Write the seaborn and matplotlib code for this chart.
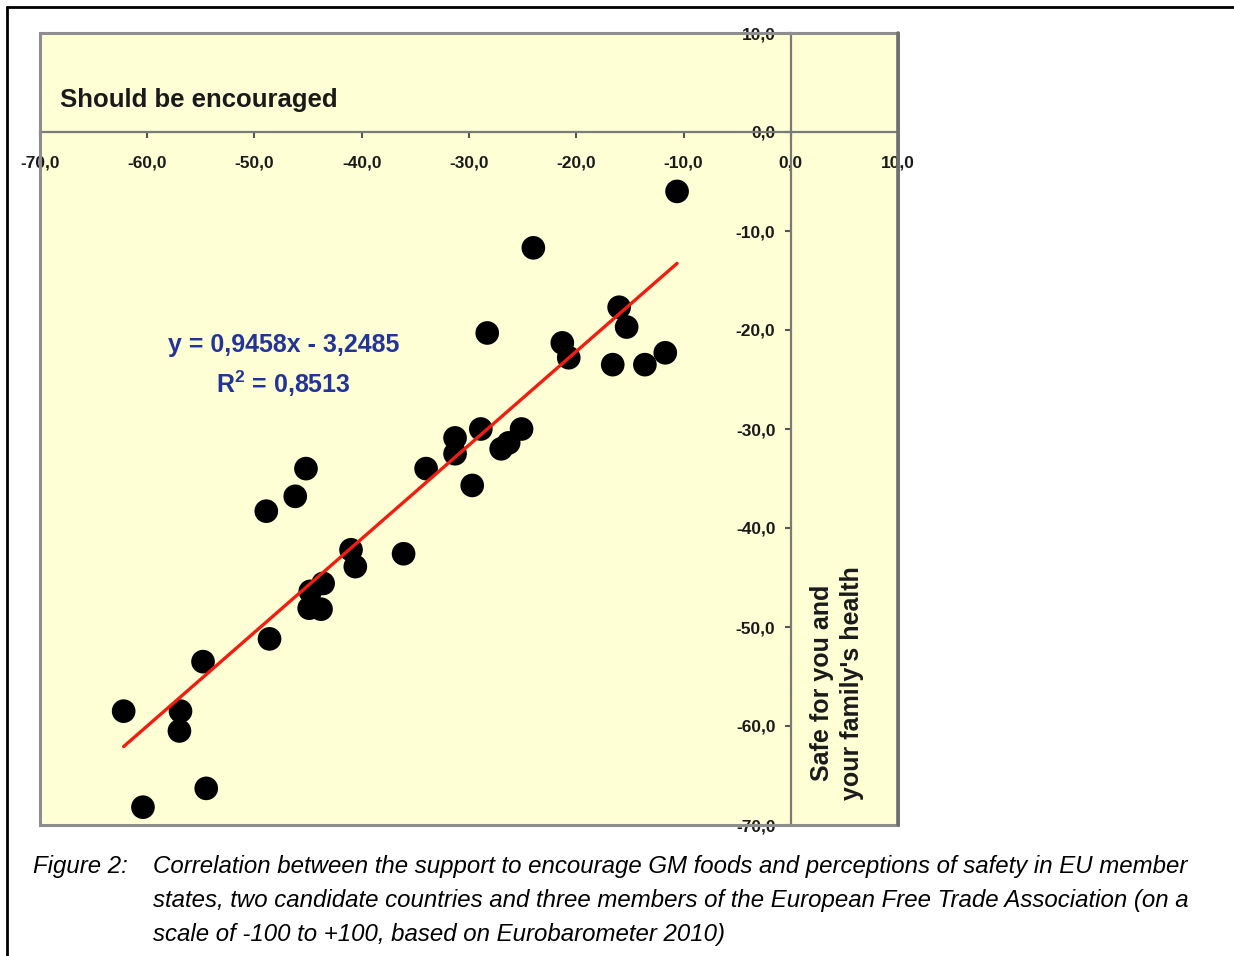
import matplotlib
matplotlib.use("Agg")
import matplotlib.pyplot as plt
from matplotlib.lines import Line2D
from matplotlib.patches import Rectangle
from matplotlib.ticker import FuncFormatter
import seaborn as sns
import pandas as pd
import numpy as np

# ---- data ----
support_encourage = [-10.6, -24.0, -16.0, -15.3, -28.3, -21.3, -20.7, -16.6, -13.6, -11.7,
                     -25.1, -28.9, -31.3, -31.3, -26.3, -27.0, -29.7, -34.0, -45.2, -46.2,
                     -48.9, -41.0, -36.1, -40.6, -43.6, -44.8, -44.9, -43.8, -48.6, -54.8,
                     -62.2, -56.9, -57.0, -54.5, -60.4]
safe_health = [-6.0, -11.7, -17.7, -19.7, -20.3, -21.3, -22.8, -23.5, -23.5, -22.3,
               -30.0, -30.0, -30.9, -32.5, -31.4, -32.0, -35.7, -34.0, -34.0, -36.8,
               -38.3, -42.2, -42.6, -43.9, -45.6, -46.4, -48.1, -48.2, -51.2, -53.5,
               -58.5, -58.5, -60.5, -66.3, -68.2]
slope = 0.9458
intercept = -3.2485
r_squared = 0.8513
tick_values = [-70, -60, -50, -40, -30, -20, -10, 0, 10]

df = pd.DataFrame({"x": support_encourage, "y": safe_health})

sns.set_theme(style="white")
plt.rcParams["font.family"] = ["Liberation Sans", "DejaVu Sans"]
plt.rcParams["mathtext.fontset"] = "custom"
plt.rcParams["mathtext.bf"] = "Liberation Sans:bold"
plt.rcParams["mathtext.rm"] = "Liberation Sans"

W, H = 1234, 956
fig = plt.figure(figsize=(W / 100, H / 100), dpi=100)
fig.patch.set_facecolor("white")

ax_l, ax_r, ax_t, ax_b = 40, 898, 33, 825
ax = fig.add_axes([ax_l / W, 1 - ax_b / H, (ax_r - ax_l) / W, (ax_b - ax_t) / H])
ax.set_facecolor("#FFFFD6")

sns.scatterplot(data=df, x="x", y="y", ax=ax, s=290, color="black",
                edgecolor="none", zorder=3, legend=False)

xs = np.array([min(support_encourage), max(support_encourage)])
sns.lineplot(x=xs, y=slope * xs + intercept, ax=ax, color="#F01E10",
             linewidth=2.4, zorder=4)

ax.set_xlim(-70, 10)
ax.set_ylim(-70, 10)

# axes crossing at zero
for side in ["left", "bottom"]:
    ax.spines[side].set_position(("data", 0))
    ax.spines[side].set_color("#7A7A7A")
    ax.spines[side].set_linewidth(1.6)
for side in ["top", "right"]:
    ax.spines[side].set_visible(False)

# outer plot frame
ax.add_patch(Rectangle((0, 0), 1, 1, transform=ax.transAxes, fill=False,
                       edgecolor="#8E8E8E", linewidth=2.2, zorder=5, clip_on=False))
ax.plot([1, 1], [0, 1], transform=ax.transAxes, color="#6E6E6E", linewidth=2.6,
        zorder=6, clip_on=False)

fmt = FuncFormatter(lambda v, p: f"{v:.1f}".replace(".", ","))
ax.set_xticks(tick_values)
ax.set_yticks(tick_values)
ax.xaxis.set_major_formatter(fmt)
ax.yaxis.set_major_formatter(fmt)
ax.tick_params(axis="both", which="major", direction="out", length=4, width=1.5,
               color="#555555", labelsize=12.5, labelcolor="#1a1a1a")
ax.tick_params(axis="x", pad=13)
ax.tick_params(axis="y", pad=7)
ax.xaxis.set_ticks_position("bottom")
ax.yaxis.set_ticks_position("left")
for lab in ax.get_xticklabels() + ax.get_yticklabels():
    lab.set_fontweight("bold")
ax.set_xlabel("")
ax.set_ylabel("")

ax.text(0.0233, 0.915, "Should be encouraged", transform=ax.transAxes,
        fontsize=18.5, fontweight="bold", color="#1a1a1a", ha="left", va="center")

ax.text(0.284, 0.606, f"y = {slope:.4f}x - {abs(intercept):.4f}".replace(".", ","),
        transform=ax.transAxes, fontsize=18, fontweight="bold", color="#22349A",
        ha="center", va="center")
ax.text(0.284, 0.557, f"R$^{{\\mathbf{{2}}}}$ = {r_squared:.4f}".replace(".", ","),
        transform=ax.transAxes, fontsize=18, fontweight="bold", color="#22349A",
        ha="center", va="center")

ax.text(0.929, 0.179, "Safe for you and\nyour family's health", transform=ax.transAxes,
        fontsize=18, fontweight="bold", color="#1a1a1a", rotation=90,
        ha="center", va="center", linespacing=1.3)

# outer border of the figure box
fig.add_artist(Line2D([7 / W, 7 / W], [0, 1 - 7 / H], color="black", linewidth=2,
                      transform=fig.transFigure))
fig.add_artist(Line2D([7 / W, 1], [1 - 7 / H, 1 - 7 / H], color="black", linewidth=2,
                      transform=fig.transFigure))

cap_kw = dict(fontsize=17.3, fontstyle="italic", color="black",
              family=["Liberation Sans", "DejaVu Sans"], va="center", ha="left")
fig.text(33 / W, 1 - 866 / H, "Figure 2:", **cap_kw)
lines = ["Correlation between the support to encourage GM foods and perceptions of safety in EU member",
         "states, two candidate countries and three members of the European Free Trade Association (on a",
         "scale of -100 to +100, based on Eurobarometer 2010)"]
for i, t in enumerate(lines):
    fig.text(153 / W, 1 - (866 + 34 * i) / H, t, **cap_kw)

fig.savefig("out.png", dpi=100)
